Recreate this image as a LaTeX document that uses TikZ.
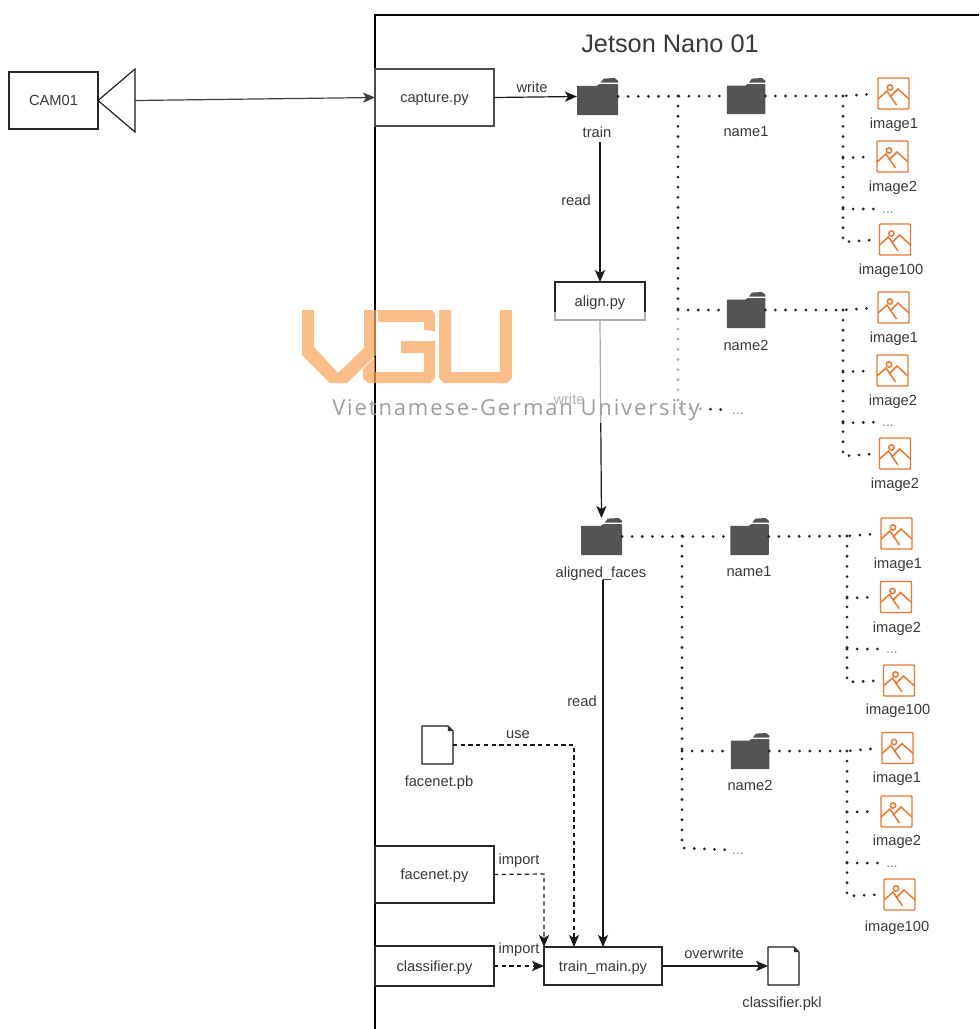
\documentclass[tikz,border=0pt]{standalone}
\usepackage{fontspec}
\setmainfont{Liberation Sans}
\newfontfamily\wmfont[LetterSpace=8.5]{Open Sans}
\usetikzlibrary{arrows.meta,calc}
\definecolor{txt}{HTML}{383838}
\definecolor{foldc}{HTML}{545454}
\definecolor{orng}{HTML}{E8772E}
\definecolor{wmorange}{HTML}{F9A55C}
\tikzset{
  x=0.75pt,y=-0.75pt,
  ln/.style={line width=0.9pt,draw=black!90},
  boxn/.style={draw=black!85,line width=.85pt,fill=white,inner sep=0pt,outer sep=0pt,text=txt,text height=10.4pt,text depth=2.2pt,font=\fontsize{11}{13}\selectfont},
  lbl/.style={inner sep=0pt,outer sep=0pt,text=txt,text height=10.4pt,text depth=2.2pt,font=\fontsize{11}{13}\selectfont},
  dots/.style={inner sep=0pt,outer sep=0pt,text=black!55,text height=9.2pt,text depth=2.2pt,font=\fontsize{10}{12}\selectfont},
  arr/.style={ln,-{Stealth[length=9pt,width=7.6pt,inset=2.2pt]}},
  darr/.style={arr,dash pattern=on 3.2pt off 2.6pt},
  tree/.style={line width=2.3pt,draw=black!85,line cap=round,dash pattern=on 0pt off 7.6pt,shorten >=3pt},
  ghost/.style={inner sep=0pt,outer sep=0pt},
  wmshape/.style={fill=wmorange,fill opacity=.72,draw=none}
}
% name, cx, cy, w, h
\newcommand\folderic[5]{%
  \node[ghost,minimum width=#4*0.75pt,minimum height=#5*0.75pt] (#1) at (#2,#3) {};
  \begin{scope}[shift={({#2-#4/2},{#3-#5/2})},xscale={#4/38.3},yscale={#5/36}]
    \fill[foldc] (22,4.6) -- (25,.6) -- (35,0) -- (38.3,2.6) -- (38.3,4.6) -- cycle;
    \fill[foldc,rounded corners=.5pt] (0,7.6) -- (19,7.6) -- (20.5,6) -- (38.3,6) -- (38.3,36) -- (0,36) -- cycle;
  \end{scope}
}
% name, cx, cy
\newcommand\imageic[3]{%
  \node[ghost,minimum width=23.2pt,minimum height=23.2pt] (#1) at (#2,#3) {};
  \begin{scope}[shift={(#2,#3)},draw=orng,line width=1.1pt]
    \draw[rounded corners=.6pt] (-15.5,-15.5) rectangle (15.5,15.5);
    \draw (-15.5,5.5) -- (-6.5,-2.5) -- (3,11.5);
    \draw (-3.5,3.5) -- (4.5,-4.5) -- (15.5,5.5);
    \draw (-3.5,-6) circle[radius=2.7];
  \end{scope}
}
% name, cx, cy
\newcommand\noteic[3]{%
  \node[ghost,minimum width=23.2pt,minimum height=28.5pt] (#1) at (#2,#3) {};
  \draw[ln,line join=round] (#1.north west) -- ($(#1.north east)+(-5,0)$) -- ($(#1.north east)+(0,5)$) -- (#1.south east) -- (#1.south west) -- cycle;
  \fill[black!80] ($(#1.north east)+(-5,0)$) -- ($(#1.north east)+(0,5)$) -- ($(#1.north east)+(-5,5)$) -- cycle;
}
\begin{document}
\begin{tikzpicture}
\useasboundingbox (0,0) rectangle (979,1029);
% frame
\coordinate (frTR) at (979,15);
\coordinate (frTL) at (375,15);
\coordinate (frBL) at (375,1029);
\draw[line width=.85pt] (frTR) -- (frTL) -- (frBL);
\node[lbl,text height=17pt,text depth=4pt,font=\fontsize{19}{22}\selectfont] (title) at (670,44) {Jetson Nano 01};

% camera
\node[boxn,minimum width=66.7pt,minimum height=42.7pt] (cam) at (53.5,100.5) {CAM01};
\node[ghost,minimum width=27.7pt,minimum height=47.2pt] (horn) at (116.5,100.5) {};
\draw[ln,line width=.85pt] (horn.west) -- (horn.north east) -- (horn.south east) -- cycle;

% boxes
\node[boxn,minimum width=89.2pt,minimum height=42.7pt,draw=black!70] (capture) at (434.5,97.5) {capture.py};
\node[boxn,minimum width=67.5pt,minimum height=28.5pt] (align) at (600,301) {align.py};
\node[boxn,minimum width=89.2pt,minimum height=42.7pt] (facenetpy) at (434.5,874.5) {facenet.py};
\node[boxn,minimum width=89.2pt,minimum height=30pt] (classifierpy) at (434.5,966) {classifier.py};
\node[boxn,minimum width=88.5pt,minimum height=28.5pt] (trainmain) at (603,966) {train\_main.py};

% folders
\folderic{train}{597.5}{96.5}{41}{37}
\folderic{nameA}{746}{96}{38.5}{36}
\folderic{nameB}{746}{310}{38.5}{36}
\folderic{aligned}{601.5}{536.5}{41}{37}
\folderic{nameC}{749.5}{536.5}{38.5}{37}
\folderic{nameD}{750}{751}{38.5}{36}

% images
\imageic{imA}{893.5}{93.5}
\imageic{imB}{892.5}{156.5}
\imageic{imC}{895}{239.5}
\imageic{imD}{893.5}{307.5}
\imageic{imE}{892.5}{370.5}
\imageic{imF}{895}{453.5}
\imageic{imG}{896.5}{533.5}
\imageic{imH}{896}{597}
\imageic{imI}{899}{680.5}
\imageic{imJ}{897.5}{748}
\imageic{imK}{896.5}{811.5}
\imageic{imL}{899.5}{894.5}

% notes
\noteic{facenetpb}{437.5}{745}
\noteic{classpkl}{783.5}{966}

% text labels
\node[lbl] (lwrite) at (532,87) {write};
\node[lbl] (ltrain) at (597,132) {train};
\node[lbl] (lread) at (576,200) {read};
\node[lbl] (lwrite2) at (569,399) {write};
\node[lbl] (lA) at (746,131) {name1};
\node[lbl] (lB) at (746,345) {name2};
\node[lbl] (lC) at (749,571) {name1};
\node[lbl] (lD) at (750,785) {name2};
\node[lbl] (laligned) at (601,572) {aligned\_faces};
\node[lbl] (lread2) at (582,701) {read};
\node[lbl] (luse) at (518,733) {use};
\node[lbl] (lpb) at (439,781) {facenet.pb};
\node[lbl] (limp1) at (519,859) {import};
\node[lbl] (limp2) at (519,948) {import};
\node[lbl] (lover) at (714,953) {overwrite};
\node[lbl] (lpkl) at (782,1002) {classifier.pkl};
\node[lbl] (iA) at (894,123) {image1};
\node[lbl] (iB) at (893,186) {image2};
\node[dots] (dA) at (888,209) {...};
\node[lbl] (iC) at (891,269) {image100};
\node[lbl] (iD) at (894,337) {image1};
\node[lbl] (iE) at (893,400) {image2};
\node[dots] (dB) at (888,422) {...};
\node[lbl] (iF) at (895,483) {image2};
\node[lbl] (iG) at (898,563) {image1};
\node[lbl] (iH) at (897,627) {image2};
\node[dots] (dC) at (892,649) {...};
\node[lbl] (iI) at (898,709) {image100};
\node[lbl] (iJ) at (897,777) {image1};
\node[lbl] (iK) at (897,840) {image2};
\node[dots] (dD) at (892,863) {...};
\node[lbl] (iL) at (897,926) {image100};
\node[dots] (dE) at (738,410) {...};
\node[dots] (dF) at (738,850) {...};

% connectors
\draw[arr,draw=black!75] (horn.east) -- (capture.west);
\draw[arr] (capture.east) -- (train.west);
\draw[arr,shorten <=1.5pt] (ltrain.south -| align.north) -- (align.north);
\draw[arr] (align.south) -- (aligned.north);
\draw[arr] (laligned.south -| trainmain.north) -- (trainmain.north);
\coordinate (impT) at (544,874);
\coordinate (impE) at (544,947);
\draw[darr] (facenetpy.east) -- (impT) -- (impE);
\draw[darr] (classifierpy.east) -- (trainmain.west);
\coordinate (useT) at (574,745);
\coordinate (useE) at (574,947);
\draw[darr] (facenetpb.east) -- (useT) -- (useE);
\draw[arr] (trainmain.east) -- (classpkl.west);

% dotted trees
\coordinate (t1) at (678,96);
\coordinate (t1b) at (678,310);
\coordinate (t1e) at (678,408);
\draw[tree] (train.east) -- (nameA.west);
\draw[tree] (t1) -- (t1e) -- (dE.west);
\draw[tree] (t1b) -- (nameB.west);
\coordinate (a1) at (843,96);
\coordinate (a2) at (843,158);
\coordinate (a3) at (843,209);
\coordinate (a4) at (843,242);
\draw[tree] (nameA.east) -- (a1) -- (imA.west);
\draw[tree] (a1) -- (a4) -- (imC.west);
\draw[tree] (a2) -- (imB.west);
\draw[tree] (a3) -- (dA.west);
\coordinate (b1) at (843,310);
\coordinate (b2) at (843,372);
\coordinate (b3) at (843,423);
\coordinate (b4) at (843,456);
\draw[tree] (nameB.east) -- (b1) -- (imD.west);
\draw[tree] (b1) -- (b4) -- (imF.west);
\draw[tree] (b2) -- (imE.west);
\draw[tree] (b3) -- (dB.west);

\coordinate (t2) at (682,536);
\coordinate (t2b) at (682,751);
\coordinate (t2e) at (682,848);
\draw[tree] (aligned.east) -- (nameC.west);
\draw[tree] (t2) -- (t2e) -- (dF.west);
\draw[tree] (t2b) -- (nameD.west);
\coordinate (c1) at (847,536);
\coordinate (c2) at (847,598);
\coordinate (c3) at (847,649);
\coordinate (c4) at (847,682);
\draw[tree] (nameC.east) -- (c1) -- (imG.west);
\draw[tree] (c1) -- (c4) -- (imI.west);
\draw[tree] (c2) -- (imH.west);
\draw[tree] (c3) -- (dC.west);
\coordinate (d1) at (847,751);
\coordinate (d2) at (847,812);
\coordinate (d3) at (847,863);
\coordinate (d4) at (847,896);
\draw[tree] (nameD.east) -- (d1) -- (imJ.west);
\draw[tree] (d1) -- (d4) -- (imL.west);
\draw[tree] (d2) -- (imK.west);
\draw[tree] (d3) -- (dD.west);

% watermark
\fill[white,opacity=.62] (545,312) rectangle (703,423);
\fill[wmshape] (302,310) -- (314,310) -- (314,347) -- (338,373) -- (364,348) -- (364,310) -- (376,310) -- (376,355) -- (347,383) -- (330,383) -- (302,355) -- cycle;
\fill[wmshape] (378,310) -- (429,310) .. controls (433,310) and (435,312) .. (435,316) -- (435,331) -- (424,330) -- (424,322) -- (378,322) -- cycle;
\fill[wmshape] (375,357) -- (363,369) -- (363,378) -- (368,383) -- (430,383) -- (435,378) -- (435,341) -- (401,341) -- (401,353) -- (424,353) -- (424,372) -- (375,372) -- cycle;
\fill[wmshape] (439,310) -- (451,310) -- (451,372) -- (500,372) -- (500,310) -- (512,310) -- (512,378) -- (507,383) -- (444,383) -- (439,378) -- cycle;
\node[inner sep=0pt,text=black!38,anchor=west,font=\wmfont\fontsize{16.5}{20}\selectfont] (wm) at (332,410) {Vietnamese-German University};
\end{tikzpicture}
\end{document}
